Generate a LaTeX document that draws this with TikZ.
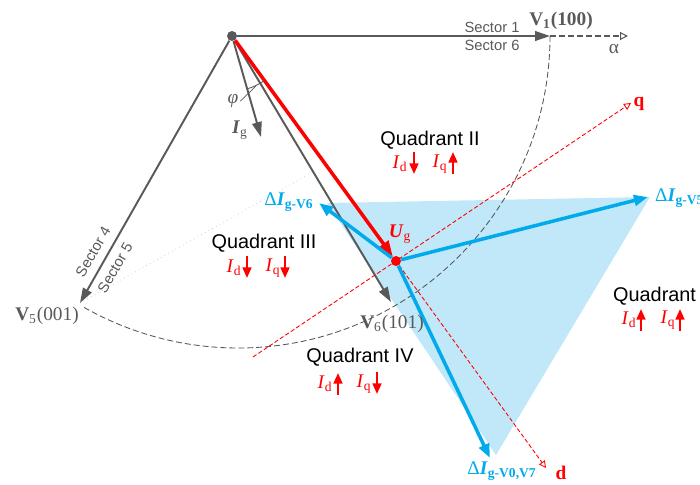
\documentclass[tikz,border=0pt]{standalone}
\usepackage{fontspec}
\setmainfont{Liberation Serif}
\setsansfont{Liberation Sans}
\usepackage{tikz}
\usetikzlibrary{arrows.meta, positioning}

\definecolor{vecgray}{RGB}{89,89,89}
\definecolor{ugred}{RGB}{255,0,0}
\definecolor{dblue}{RGB}{0,170,235}
\definecolor{lblue}{RGB}{192,232,248}

\newcommand{\curlbl}[1]{\textit{I}\textsubscript{#1}}

\begin{document}
\begin{tikzpicture}[
  x=0.02cm, y=-0.02cm,
  font=\fontsize{11}{13}\selectfont,
  vec/.style={vecgray, line width=1.1pt, -{Triangle[length=8.5pt,width=5.5pt]}},
  ivec/.style={dblue, line width=2pt, -{Triangle[length=8pt,width=6pt]}},
  axis/.style={ugred, line width=0.5pt, dash pattern=on 2.4pt off 1.3pt,
    -{Triangle[open,length=4pt,width=4pt]}},
  quad/.style={font=\sffamily\fontsize{11.3}{13}\selectfont},
  sect/.style={text=vecgray, font=\sffamily\fontsize{8.4}{10}\selectfont, inner sep=1pt},
  lbl/.style={text=vecgray, inner sep=1pt},
  blbl/.style={text=dblue, inner sep=1pt},
  cur/.style={text=ugred, inner sep=0pt},
  curarr/.style={ugred, line width=1.2pt, -{Triangle[length=6pt,width=5pt]}},
]
  \useasboundingbox (0,0) rectangle (700,484);

  % blue triangle behind everything
  \fill[lblue] (327,203) -- (650,197) -- (496,455) -- cycle;

  % fixed points
  \coordinate (V1) at (550,36);
  \coordinate (V5) at (80,303);
  \coordinate (V6) at (391,302);
  \coordinate (Ig) at (261,137);
  \coordinate (alpha) at (628,36);
  \coordinate (qStart) at (253,357);
  \coordinate (qEnd) at (631,103);
  \coordinate (dEnd) at (546,468);
  \coordinate (foot) at (313,172);
  \coordinate (dV6) at (319,203);
  \coordinate (dV5) at (648,197);
  \coordinate (dV07) at (490,458);

  % hexagon arc and helper lines
  \draw[vecgray, line width=0.5pt, dash pattern=on 3.4pt off 1.7pt]
    (V1) arc[start angle=0, end angle=120, radius=312];
  \draw[vecgray!35, line width=0.4pt, dotted] (V5) -- (foot);
  \draw[vecgray, line width=0.6pt, dash pattern=on 3.4pt off 1.7pt,
    -{Triangle[open,length=4.5pt,width=4.5pt]}] (V1) -- (alpha);

  % origin and switching vectors
  \node[circle, fill=vecgray, minimum size=0.2cm, inner sep=0pt] (O) at (232,36) {};
  \draw[vec] (O) -- (V1);
  \draw[vec] (O) -- (V5);
  \draw[vec] (O) -- (V6);
  \draw[vec] (O) -- (Ig);

  % dq axes
  \node[circle, fill=ugred, minimum size=0.2cm, inner sep=0pt] (ug) at (396,261) {};
  \draw[axis] (qStart) -- (qEnd);
  \draw[axis] (ug) -- (dEnd);
  \draw[ugred, line width=2pt, -{Triangle[length=9pt,width=6.5pt]}] (O) -- (ug);

  % current ripple vectors
  \draw[ivec] (ug) -- (dV6);
  \draw[ivec] (ug) -- (dV5);
  \draw[ivec] (ug) -- (dV07);

  % phase angle
  \draw[vecgray, line width=0.5pt] (O) ++(74:55) arc[start angle=74, end angle=54, radius=55];
  \node[lbl] (phi) at (233,101) {\textit{φ}};
  \draw[vecgray, line width=0.4pt] (phi.east) -- (256,86);

  % vector labels
  \node[lbl] (v1l) at (561,21) {\textbf{V}\textsubscript{\textbf{1}}\textbf{(100)}};
  \node[lbl] (v5l) at (47,316) {\textbf{V}\textsubscript{5}(001)};
  \node[lbl] (v6l) at (392,324) {\textbf{V}\textsubscript{6}(101)};
  \node[lbl] (al) at (614,49) {α};
  \node[lbl] (igl) at (240,130) {\textbf{\textit{I}}\textsubscript{g}};
  \node[text=ugred, inner sep=1pt] (ugl) at (400,234) {\textbf{\textit{U}}\textsubscript{g}};
  \node[text=ugred, inner sep=1pt] (ql) at (639,104) {\textbf{q}};
  \node[text=ugred, inner sep=1pt] (dl) at (561,473) {\textbf{d}};

  \node[sect] (s1) at (492,27) {Sector 1};
  \node[sect] (s6) at (492,45) {Sector 6};
  \node[sect, rotate=60] (s4) at (93,252) {Sector 4};
  \node[sect, rotate=60] (s5) at (115,268) {Sector 5};

  \node[blbl] (lv6) at (289,202) {Δ\textbf{\textit{I}}\textsubscript{\textbf{g-V6}}};
  \node[blbl, anchor=west] (lv5) at (653,198) {Δ\textbf{\textit{I}}\textsubscript{\textbf{g-V5}}};
  \node[blbl] (lv07) at (502,471) {Δ\textbf{\textit{I}}\textsubscript{\textbf{g-V0,V7}}};

  % quadrants
  \node[quad] (q2) at (430,140) {Quadrant II};
  \node[cur] (d2) at (400,164) {\curlbl{d}};
  \node[cur] (i2) at (440,164) {\curlbl{q}};
  \draw[curarr] (d2) ++(14,-12) -- ++(0,22);
  \draw[curarr] (i2) ++(13,10) -- ++(0,-22);

  \node[quad] (q3) at (264,243) {Quadrant III};
  \node[cur] (d3) at (234,268) {\curlbl{d}};
  \node[cur] (i3) at (273,268) {\curlbl{q}};
  \draw[curarr] (d3) ++(13,-12) -- ++(0,22);
  \draw[curarr] (i3) ++(12,-12) -- ++(0,22);

  \node[quad] (q4) at (360,357) {Quadrant IV};
  \node[cur] (d4) at (325,384) {\curlbl{d}};
  \node[cur] (i4) at (364,384) {\curlbl{q}};
  \draw[curarr] (d4) ++(13,11) -- ++(0,-22);
  \draw[curarr] (i4) ++(13,-12) -- ++(0,22);

  \node[quad, anchor=west] (q1) at (607,296) {Quadrant I};
  \node[cur] (d1) at (629,320) {\curlbl{d}};
  \node[cur] (i1) at (668,320) {\curlbl{q}};
  \draw[curarr] (d1) ++(12,11) -- ++(0,-22);
  \draw[curarr] (i1) ++(12,11) -- ++(0,-22);
\end{tikzpicture}
\end{document}
